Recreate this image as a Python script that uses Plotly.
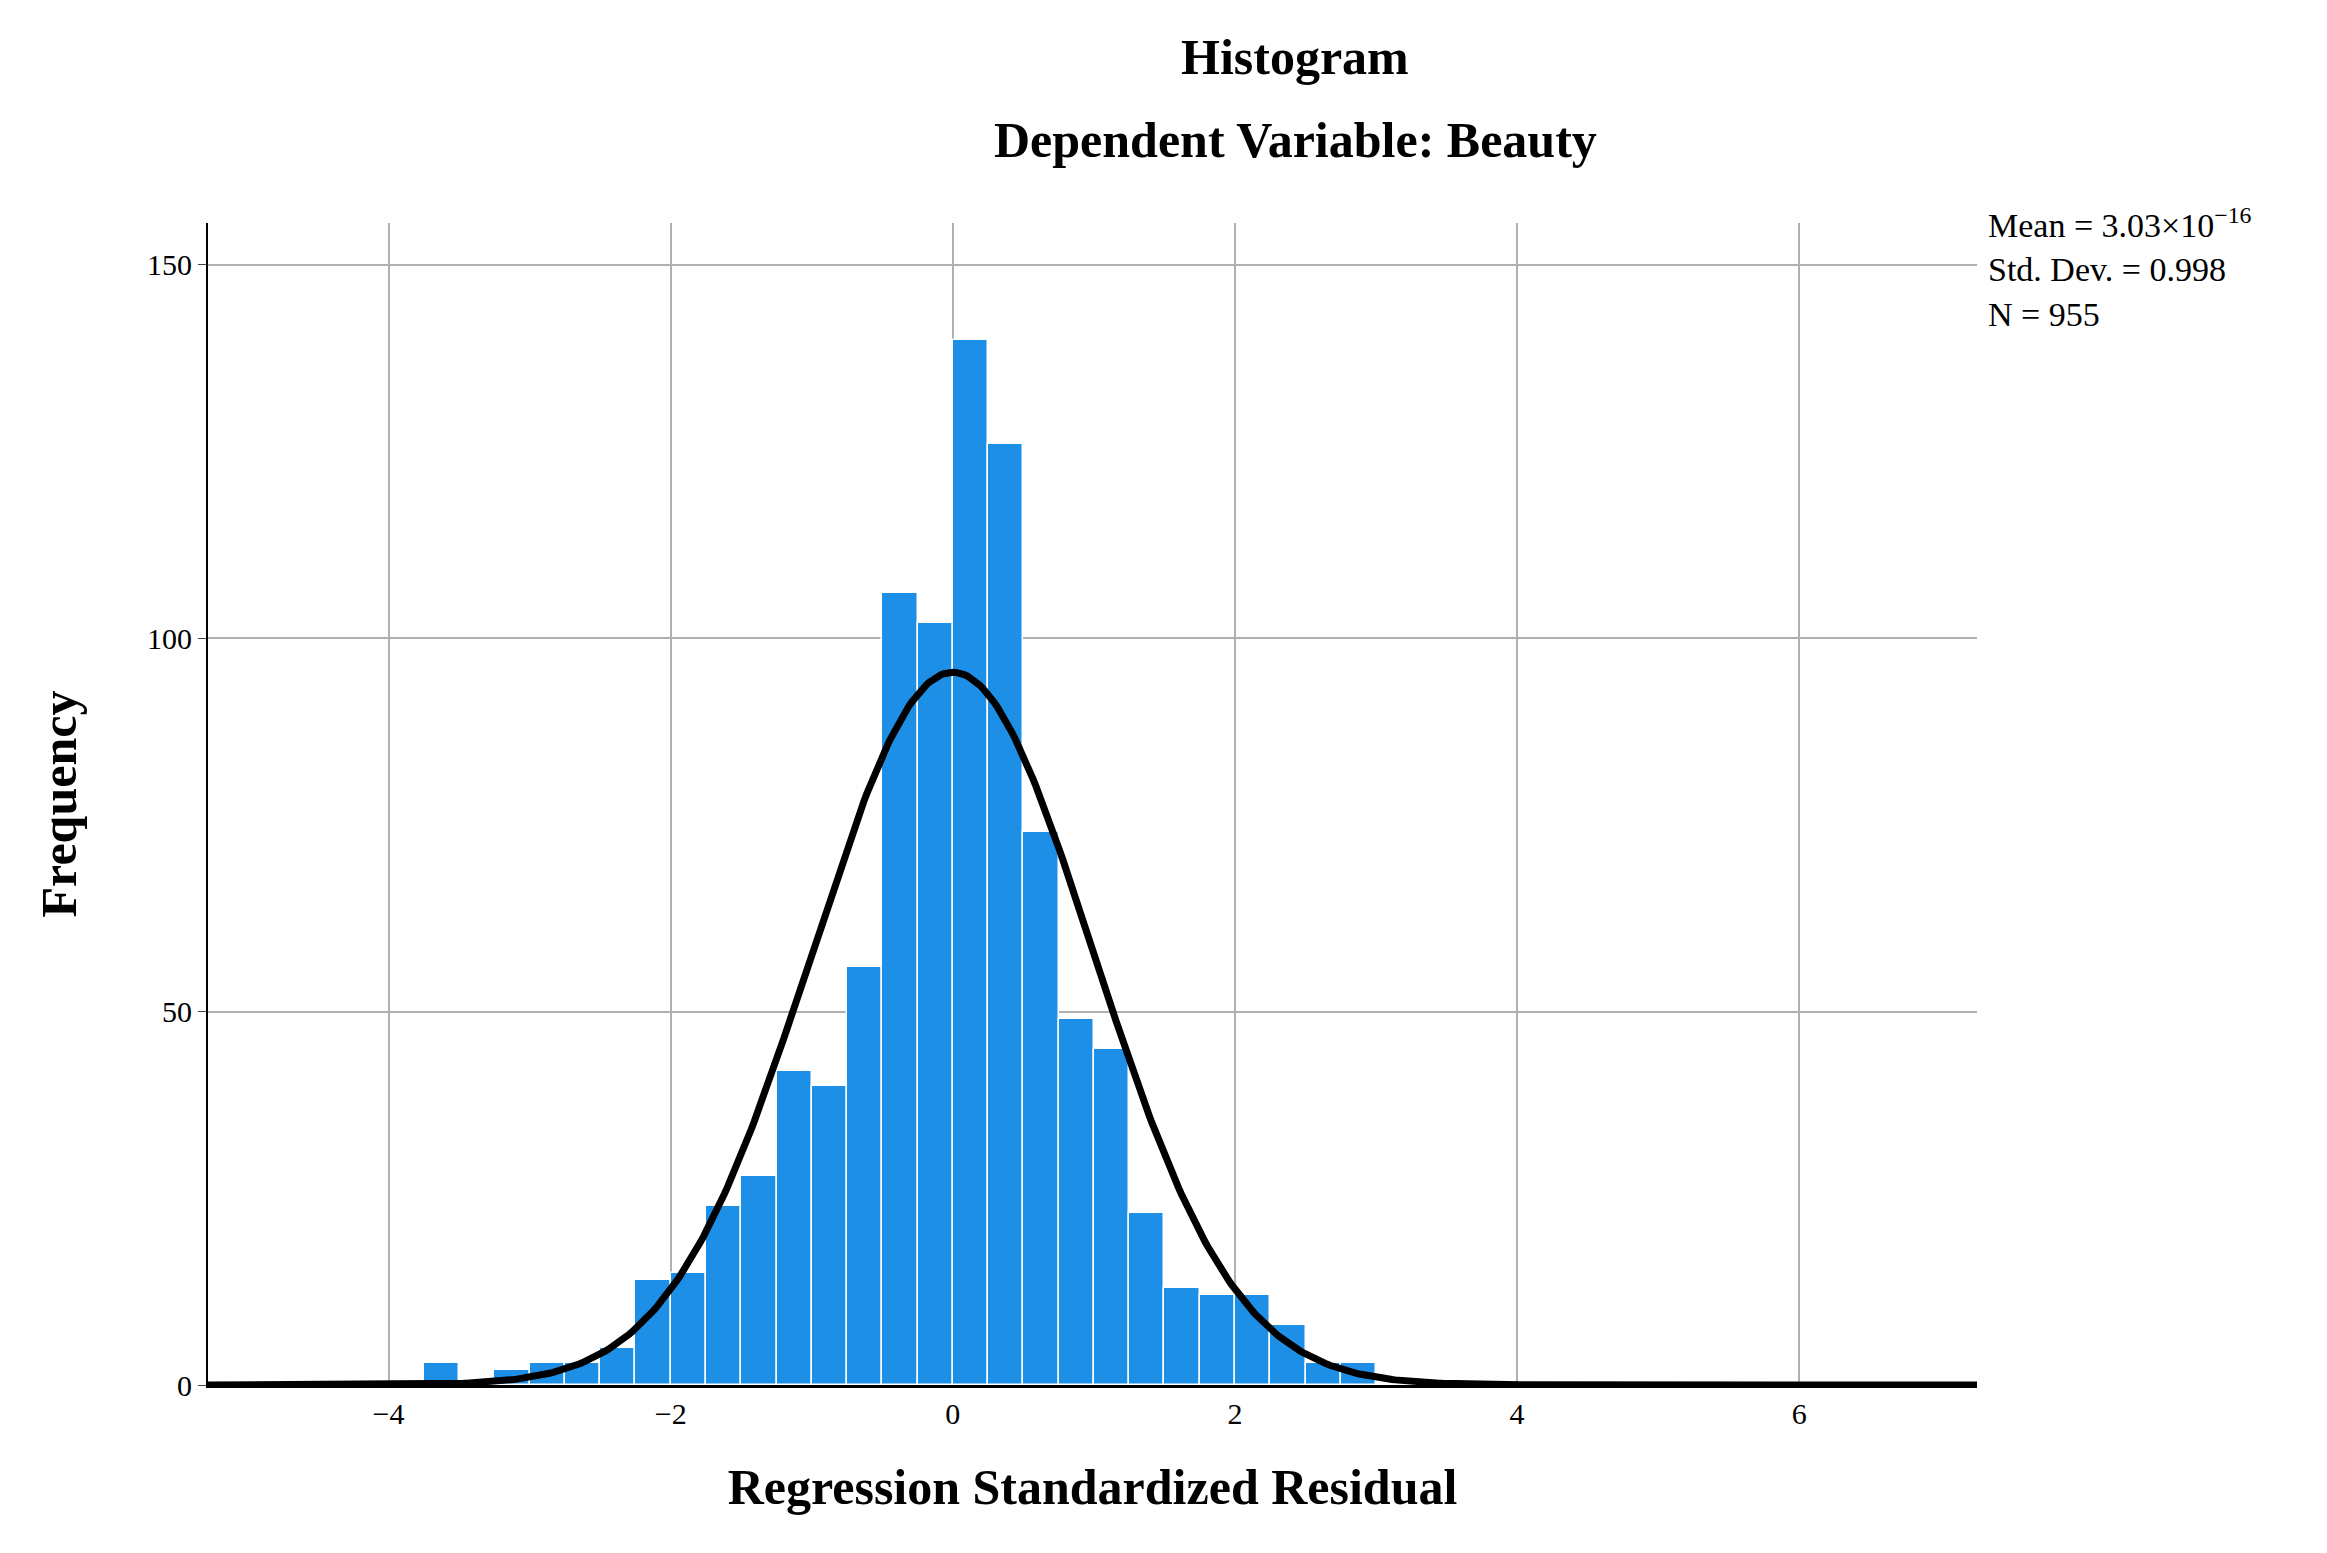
import numpy as np
import plotly.graph_objects as go

bin_left = [-3.75,-3.5,-3.25,-3.0,-2.75,-2.5,-2.25,-2.0,-1.75,-1.5,-1.25,-1.0,-0.75,-0.5,-0.25,
            0.0,0.25,0.5,0.75,1.0,1.25,1.5,1.75,2.0,2.25,2.5,2.75]
counts = [3,0,2,3,3,5,14,15,24,28,42,40,56,106,102,
          140,126,74,49,45,23,13,12,12,8,3,3]
bin_width = 0.25
mean, sd, n = 3.03e-16, 0.998, 955

centers = [b + bin_width/2 for b in bin_left]
FONT = "Liberation Serif"
fig = go.Figure()
fig.add_bar(x=centers, y=counts, width=bin_width,
            marker=dict(color="#1E8FE6", line=dict(color="white", width=1.5)))
xs = np.linspace(-5.3, 7.3, 600)
ys = n*bin_width/(sd*np.sqrt(2*np.pi))*np.exp(-0.5*((xs-mean)/sd)**2)
fig.add_scatter(x=xs, y=ys, mode="lines", line=dict(color="black", width=7))

fig.update_layout(
    width=2327, height=1553, showlegend=False, plot_bgcolor="white", paper_bgcolor="white",
    margin=dict(l=200, r=358, t=215, b=176), bargap=0,
    font=dict(family=FONT, color="black"),
    xaxis=dict(range=[-5.28, 7.26], tickvals=[-4,-2,0,2,4,6], showgrid=True, gridcolor="#b0b0b0",
               gridwidth=1.5, zeroline=False, ticks="", tickfont=dict(size=30),
               title=dict(text="<b>Regression Standardized Residual</b>", font=dict(size=50), standoff=40),
               showline=True, linecolor="black", linewidth=3),
    yaxis=dict(range=[0, 155.6], tickvals=[0,50,100,150], showgrid=True, gridcolor="#b0b0b0",
               gridwidth=1.5, zeroline=False, ticks="outside", ticklen=8, tickfont=dict(size=30),
               title=dict(text="<b>Frequency</b>", font=dict(size=50), standoff=55),
               showline=True, linecolor="black", linewidth=2),
)
for txt, ypx in [("<b>Histogram</b>", 49), ("<b>Dependent Variable: Beauty</b>", 132)]:
    fig.add_annotation(x=1287/2327, y=1 - ypx/1553, xref="paper", yref="paper", yanchor="middle",
                       xanchor="center", showarrow=False, text=txt, font=dict(size=50),
                       yshift=0)
# convert paper coords: paper spans plot area; use container-based positioning via yref paper math
fig.layout.annotations = []
plot_h = 1553 - 215 - 176
plot_w = 2327 - 200 - 358
for txt, ypx in [("<b>Histogram</b>", 49), ("<b>Dependent Variable: Beauty</b>", 132)]:
    fig.add_annotation(x=(1287 - 200)/plot_w, y=(1553 - 176 - ypx)/plot_h, xref="paper", yref="paper",
                       yanchor="middle", xanchor="center", showarrow=False, text=txt, font=dict(size=50))
fig.add_annotation(x=1.005, y=1.02, xref="paper", yref="paper", xanchor="left", yanchor="top",
                   align="left", showarrow=False, font=dict(size=34),
                   text="Mean = 3.03×10<sup>−16</sup><br>Std. Dev. = 0.998<br>N = 955")
fig.write_html("out.html")
